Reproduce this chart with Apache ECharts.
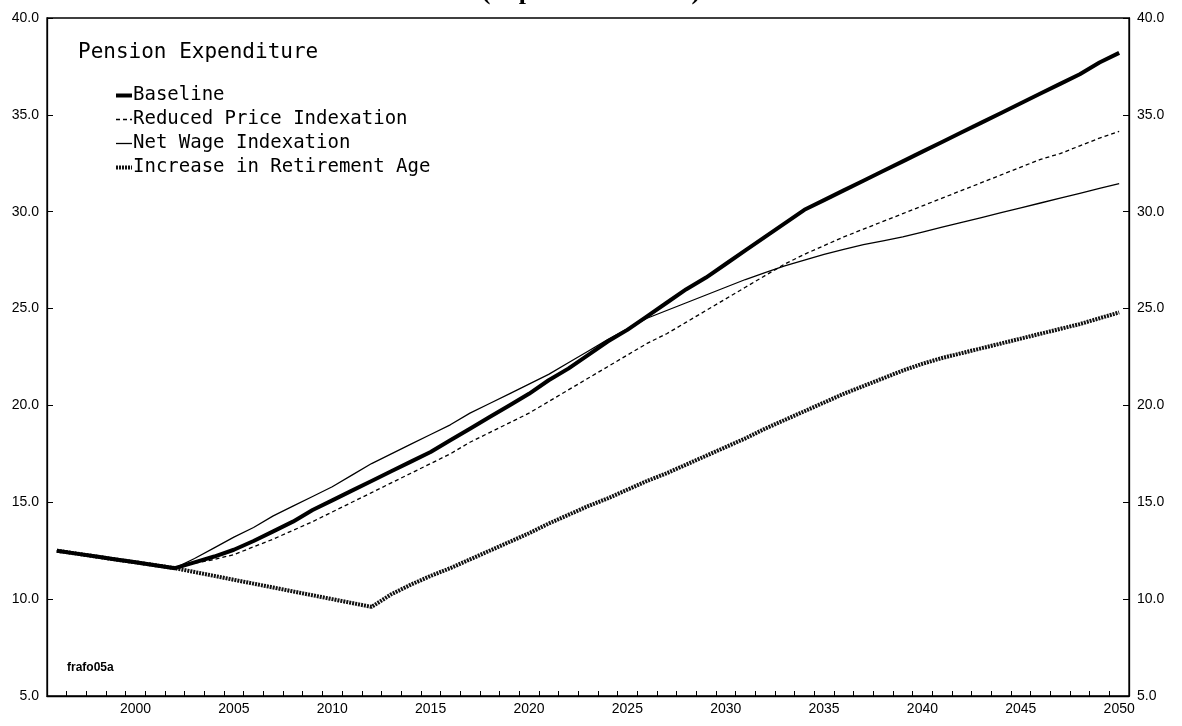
<!DOCTYPE html>
<html>
<head>
<meta charset="utf-8">
<title>Pension Expenditure</title>
<script src="https://cdn.jsdelivr.net/npm/echarts@6/dist/echarts.min.js"></script>
<style>
  html, body { margin: 0; padding: 0; background: #fff; }
  #chart { width: 1182px; height: 726px; }
</style>
</head>
<body>
<div id="chart"></div>
<script>
// years on the category axis
const years = [
  1996, 1997, 1998, 1999, 2000, 2001, 2002, 2003, 2004, 2005,
  2006, 2007, 2008, 2009, 2010, 2011, 2012, 2013, 2014, 2015,
  2016, 2017, 2018, 2019, 2020, 2021, 2022, 2023, 2024, 2025,
  2026, 2027, 2028, 2029, 2030, 2031, 2032, 2033, 2034, 2035,
  2036, 2037, 2038, 2039, 2040, 2041, 2042, 2043, 2044, 2045,
  2046, 2047, 2048, 2049, 2050
]

// pension expenditure, % of GDP
const baseline = [
  12.5, 12.35, 12.2, 12.05, 11.9, 11.75, 11.6, 11.9, 12.2, 12.55,
  13.0, 13.5, 14.0, 14.6, 15.1, 15.6, 16.1, 16.6, 17.1, 17.6,
  18.2, 18.8, 19.4, 20.0, 20.6, 21.3, 21.9, 22.6, 23.3, 23.9,
  24.6, 25.3, 26.0, 26.6, 27.3, 28.0, 28.7, 29.4, 30.1, 30.6,
  31.1, 31.6, 32.1, 32.6, 33.1, 33.6, 34.1, 34.6, 35.1, 35.6,
  36.1, 36.6, 37.1, 37.7, 38.2
]
const reducedPrice = [
  12.5, 12.35, 12.2, 12.05, 11.9, 11.75, 11.6, 11.85, 12.05, 12.3,
  12.7, 13.1, 13.55, 14.0, 14.5, 15.0, 15.5, 16.0, 16.5, 17.0,
  17.5, 18.1, 18.6, 19.1, 19.6, 20.2, 20.8, 21.4, 22.0, 22.6,
  23.2, 23.7, 24.3, 24.9, 25.5, 26.1, 26.7, 27.3, 27.8, 28.25,
  28.7, 29.1, 29.5, 29.9, 30.3, 30.7, 31.1, 31.5, 31.9, 32.3,
  32.7, 33.0, 33.4, 33.8, 34.15
]
const netWage = [
  12.5, 12.35, 12.2, 12.05, 11.9, 11.75, 11.6, 12.1, 12.65, 13.2,
  13.7, 14.3, 14.8, 15.3, 15.8, 16.4, 17.0, 17.5, 18.0, 18.5,
  19.0, 19.6, 20.1, 20.6, 21.1, 21.6, 22.2, 22.8, 23.4, 23.95,
  24.5, 24.9, 25.3, 25.7, 26.1, 26.5, 26.85, 27.2, 27.5, 27.8,
  28.05, 28.3, 28.5, 28.7, 28.95, 29.2, 29.45, 29.7, 29.95, 30.2,
  30.45, 30.7, 30.95, 31.2, 31.45
]
const retirementAge = [
  12.5, 12.35, 12.2, 12.05, 11.9, 11.75, 11.6, 11.4, 11.2, 11.0,
  10.8, 10.6, 10.4, 10.2, 10.0, 9.8, 9.6, 10.25, 10.75, 11.2,
  11.6, 12.05, 12.5, 12.95, 13.4, 13.9, 14.35, 14.8, 15.2, 15.65,
  16.1, 16.5, 16.95, 17.4, 17.85, 18.3, 18.8, 19.25, 19.7, 20.15,
  20.6, 21.0, 21.4, 21.8, 22.15, 22.45, 22.7, 22.95, 23.2, 23.45,
  23.7, 23.95, 24.2, 24.5, 24.8
]

const chart = echarts.init(document.getElementById('chart'))

const axisText = { color: '#000', fontFamily: 'Liberation Sans', fontSize: 14 }

// line styles shared by series and legend
const styles = {
  'Baseline': { color: '#000', width: 4 },
  'Reduced Price Indexation': { color: '#000', width: 1.3, type: [4, 3] },
  'Net Wage Indexation': { color: '#000', width: 1.3 },
  'Increase in Retirement Age': { color: '#111', width: 4, type: [2, 1] },
}

const valueAxis = (position) => ({
  type: 'value',
  position: position,
  min: 5,
  max: 40,
  interval: 5,
  splitLine: { show: false },
  axisLine: { show: true, lineStyle: { color: '#000', width: 1.3 } },
  axisTick: { show: true, inside: true, length: 6, lineStyle: { color: '#000' } },
  axisLabel: {
    ...axisText,
    margin: 8,
    formatter: (v) => v.toFixed(1),
  },
})

const lineSeries = (name, data) => ({
  name: name,
  type: 'line',
  data: data,
  symbol: 'none',
  itemStyle: { color: '#000' },
  lineStyle: styles[name],
})

const option = {
  backgroundColor: '#fff',
  animation: false,
  title: [
    {
      // title is cut off at the top edge of the page
      text: '(in percent of GDP)',
      left: 'center',
      top: -26,
      textStyle: { fontFamily: 'Liberation Serif', fontWeight: 'bold', fontSize: 26, color: '#000' },
    },
    {
      text: 'Pension Expenditure',
      left: 73,
      top: 37,
      textStyle: { fontFamily: 'DejaVu Sans Mono', fontWeight: 'normal', fontSize: 21, color: '#000' },
    },
    {
      text: 'frafo05a',
      left: 62,
      top: 657,
      textStyle: { fontFamily: 'Liberation Sans', fontWeight: 'bold', fontSize: 12, color: '#000' },
    },
  ],
  legend: {
    orient: 'vertical',
    left: 109,
    top: 81,
    itemWidth: 16,
    itemHeight: 10,
    itemGap: 5,
    itemStyle: { opacity: 0 },
    textStyle: { fontFamily: 'DejaVu Sans Mono', fontSize: 19, color: '#000', padding: [0, 0, 0, -4] },
    data: Object.keys(styles).map((name) => ({ name: name, lineStyle: styles[name] })),
  },
  grid: {
    left: 47,
    right: 53,
    top: 18,
    bottom: 30,
    show: true,
    borderColor: '#000',
    borderWidth: 1.3,
    backgroundColor: 'transparent',
  },
  xAxis: {
    type: 'category',
    data: years,
    boundaryGap: true,
    axisLine: { lineStyle: { color: '#000', width: 1.3 } },
    axisTick: { show: true, inside: true, length: 5, interval: 0, lineStyle: { color: '#000' } },
    axisLabel: {
      ...axisText,
      margin: 6,
      interval: (i, v) => Number(v) % 5 === 0,
    },
  },
  yAxis: [valueAxis('left'), valueAxis('right')],
  series: [
    lineSeries('Increase in Retirement Age', retirementAge),
    lineSeries('Net Wage Indexation', netWage),
    lineSeries('Reduced Price Indexation', reducedPrice),
    lineSeries('Baseline', baseline),
  ],
}

chart.setOption(option)
</script>
</body>
</html>
